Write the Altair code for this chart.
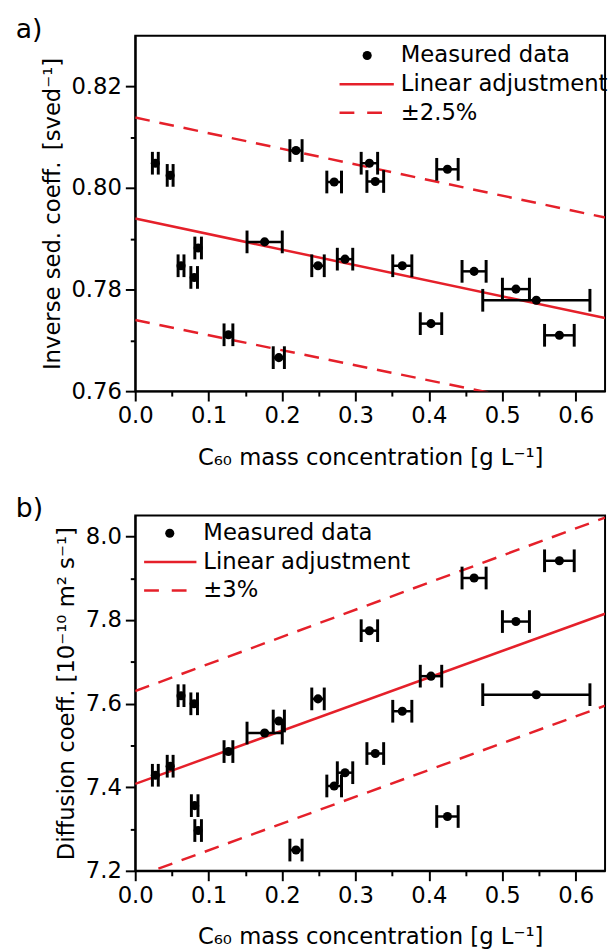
import altair as alt
import pandas as pd

# ---- data ----
top_x = [0.0274, 0.0476, 0.0624, 0.0803, 0.0857, 0.127, 0.1763, 0.1956, 0.219, 0.249, 0.271,
         0.2858, 0.319, 0.327, 0.3638, 0.4029, 0.4253, 0.4616, 0.5186, 0.5464, 0.5778]
top_y = [0.8049, 0.8025, 0.7847, 0.7824, 0.7882, 0.7711, 0.7894, 0.7666, 0.8074, 0.7847, 0.8012,
         0.7860, 0.8049, 0.8013, 0.7847, 0.7733, 0.8037, 0.7836, 0.7801, 0.7779, 0.7710]
top_xerr = [0.004, 0.004, 0.004, 0.0045, 0.0045, 0.006, 0.024, 0.0076, 0.0083, 0.0085, 0.010,
            0.0105, 0.0112, 0.0114, 0.013, 0.0146, 0.0146, 0.0164, 0.0184, 0.073, 0.0202]

bot_x = [0.0274, 0.0476, 0.0624, 0.0803, 0.081, 0.0857, 0.127, 0.1763, 0.1956, 0.219, 0.249,
         0.271, 0.2858, 0.319, 0.327, 0.3638, 0.4029, 0.4253, 0.4616, 0.5186, 0.5464, 0.5778]
bot_y = [7.4286, 7.4503, 7.619, 7.5996, 7.356, 7.2964, 7.4853, 7.5296, 7.5584, 7.2497, 7.6113,
         7.403, 7.4348, 7.7745, 7.4806, 7.5818, 7.6657, 7.33, 7.9005, 7.7963, 7.6214, 7.9417]
bot_xerr = [0.004, 0.004, 0.004, 0.0045, 0.0045, 0.0045, 0.006, 0.024, 0.0076, 0.0083, 0.0085,
            0.010, 0.0105, 0.0112, 0.0114, 0.013, 0.0146, 0.0146, 0.0164, 0.0184, 0.073, 0.0202]

# fitted line and tolerance band end points (x = 0 and x = 0.64)
fit_x = [0.0, 0.64]
top_fit = [0.7940, 0.7744]
top_upper = [0.8139, 0.7942]
top_lower = [0.7740, 0.7550]
bot_fit = [7.408, 7.815]
bot_upper = [7.630, 8.045]
bot_lower = [7.185, 7.595]

top_legend = ["Measured data", "Linear adjustment", "\u00b12.5%"]
bot_legend = ["Measured data", "Linear adjustment", "\u00b13%"]

x_ticks = [0.0, 0.05, 0.1, 0.15, 0.2, 0.25, 0.3, 0.35, 0.4, 0.45, 0.5, 0.55, 0.6]
top_ticks = [0.76, 0.77, 0.78, 0.79, 0.80, 0.81, 0.82]
bot_ticks = [7.2, 7.3, 7.4, 7.5, 7.6, 7.7, 7.8, 7.9, 8.0]

FONT = "DejaVu Sans"
RED = "#e5202a"
W, H = 476, 360


def make_axis(values, major, fmt, title, tp):
    return alt.Axis(
        values=values,
        title=title,
        grid=False,
        labelExpr=f"({major}) ? format(datum.value, '{fmt}') : ''",
        tickSize={"condition": {"test": major, "value": 10}, "value": 5},
        labelOverlap=False,
        labelFlush=False,
        labelPadding=4,
        titlePadding=tp,
    )


def panel(xs, ys, xerr, fy, fu, fl, domain, yticks, ymajor, yfmt, ytitle, legend, leg_pos, letter):
    df = pd.DataFrame({"x": xs, "y": ys, "lo": [a - e for a, e in zip(xs, xerr)],
                       "hi": [a + e for a, e in zip(xs, xerr)]})
    lines = pd.DataFrame({"x": fit_x * 3, "y": fy + fu + fl,
                          "kind": ["fit"] * 2 + ["up"] * 2 + ["low"] * 2})
    xs_ = alt.Scale(domain=[0, 0.64], nice=False, zero=False)
    ys_ = alt.Scale(domain=domain, nice=False, zero=False)
    xax = make_axis(x_ticks, "abs(datum.value*10 - round(datum.value*10)) < 0.001", ".1f",
                    "C\u2086\u2080 mass concentration [g L\u207b\u00b9]", 19)
    yax = make_axis(yticks, ymajor, yfmt, ytitle, 7)
    base_x = alt.X("x:Q", scale=xs_, axis=xax)
    base_y = alt.Y("y:Q", scale=ys_, axis=yax)

    solid = alt.Chart(lines).transform_filter("datum.kind == 'fit'").mark_line(
        color=RED, strokeWidth=2.5, clip=True).encode(x=base_x, y=base_y)
    dashed = alt.Chart(lines).transform_filter("datum.kind != 'fit'").mark_line(
        color=RED, strokeWidth=2.5, strokeDash=[15, 10], clip=True).encode(
        x=base_x, y=base_y, detail="kind:N")
    bar = alt.Chart(df).mark_rule(color="black", strokeWidth=2.5, opacity=1).encode(
        x=alt.X("lo:Q", scale=xs_, axis=xax), x2="hi:Q", y=base_y)
    cap_lo = alt.Chart(df).mark_tick(color="black", orient="vertical", size=23, thickness=3,
                                     opacity=1).encode(
        x=alt.X("lo:Q", scale=xs_, axis=xax), y=base_y)
    cap_hi = alt.Chart(df).mark_tick(color="black", orient="vertical", size=23, thickness=3,
                                     opacity=1).encode(
        x=alt.X("hi:Q", scale=xs_, axis=xax), y=base_y)
    pts = alt.Chart(df).mark_circle(color="black", size=85, opacity=1).encode(x=base_x, y=base_y)

    lx, ly, l1, l2, tx = leg_pos
    one = pd.DataFrame({"k": [0]})
    leg_txt = [
        alt.Chart(pd.DataFrame({"label": [legend[i]]})).mark_text(
            align="left", baseline="middle", font=FONT, fontSize=23, color="black").encode(
            x=alt.value(tx), y=alt.value(ly + 29 * i), text="label:N")
        for i in range(3)
    ]
    leg_dot = alt.Chart(one).mark_circle(color="black", size=85, opacity=1).encode(
        x=alt.value(lx), y=alt.value(ly))
    leg_solid = alt.Chart(one).mark_rule(color=RED, strokeWidth=2.5).encode(
        x=alt.value(l1), x2=alt.value(l2), y=alt.value(ly + 29))
    leg_dash = alt.Chart(one).mark_rule(color=RED, strokeWidth=2.5, strokeDash=[15, 13]).encode(
        x=alt.value(l1), x2=alt.value(l2), y=alt.value(ly + 58))
    lab = alt.Chart(pd.DataFrame({"t": [letter]})).mark_text(
        align="left", baseline="middle", font=FONT, fontSize=27, color="black").encode(
        x=alt.value(-121), y=alt.value(-6), text="t:N")

    return alt.layer(solid, dashed, bar, cap_lo, cap_hi, pts, *leg_txt, leg_dot, leg_solid,
                     leg_dash, lab).properties(width=W, height=H)


top = panel(top_x, top_y, top_xerr, top_fit, top_upper, top_lower, [0.76, 0.83], top_ticks,
            "abs(datum.value*50 - round(datum.value*50)) < 0.001", ".2f",
            "Inverse sed. coeff.\u2002[sved\u207b\u00b9]", top_legend, (235, 20, 207, 262, 269), "a)")
bot = panel(bot_x, bot_y, bot_xerr, bot_fit, bot_upper, bot_lower, [7.2, 8.05], bot_ticks,
            "abs(datum.value*5 - round(datum.value*5)) < 0.001", ".1f",
            "Diffusion coeff. [10\u207b\u00b9\u2070 m\u00b2 s\u207b\u00b9]", bot_legend, (35, 18, 9, 62, 69), "b)")

chart = alt.vconcat(top, bot, spacing=126, bounds="flush").properties(
    padding={"left": 15, "top": 9, "right": 0, "bottom": 0}
).configure_view(stroke="black", strokeWidth=2).configure_axis(
    domainColor="black", domainWidth=2, tickColor="black", tickWidth=2,
    labelFont=FONT, labelFontSize=23, labelColor="black",
    titleFont=FONT, titleFontSize=23, titleFontWeight="normal", titleColor="black",
)

chart.save("out.html", embed_options={"renderer": "svg", "actions": False})
